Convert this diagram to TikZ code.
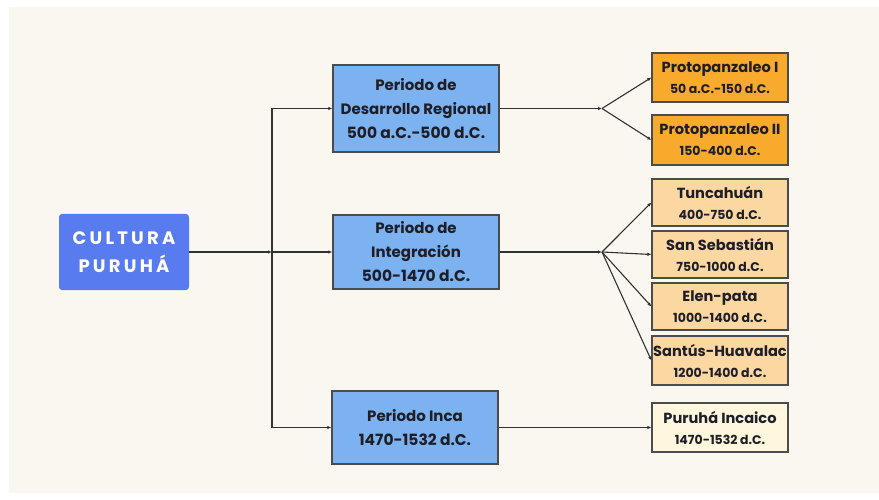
\documentclass[tikz,border=0pt]{standalone}
\usepackage{fontspec}
\setmainfont{Poppins}
\usetikzlibrary{arrows.meta}
\definecolor{bgcream}{RGB}{250,247,241}
\definecolor{mainblue}{RGB}{88,124,240}
\definecolor{periodblue}{RGB}{125,178,240}
\definecolor{orangebox}{RGB}{248,170,45}
\definecolor{lightorange}{RGB}{251,215,162}
\definecolor{creambox}{RGB}{255,246,222}
\definecolor{boxborder}{RGB}{75,75,75}
\definecolor{linegrey}{RGB}{50,50,50}
\definecolor{textdark}{RGB}{30,30,40}
\tikzset{
  period/.style={draw=boxborder, line width=1.4pt, fill=periodblue, minimum width=166pt,
    align=center, inner sep=0pt, text=textdark,
    font=\fontsize{15}{24}\selectfont\bfseries},
  subbox/.style={draw=boxborder, line width=1.2pt, minimum width=136pt, minimum height=48pt,
    align=center, inner sep=0pt, text=textdark,
    font=\fontsize{14.6}{21}\selectfont\bfseries},
  conn/.style={draw=linegrey, line width=1.1pt, -{Latex[length=4pt,width=3.5pt]}},
  plain/.style={draw=linegrey, line width=1.1pt}
}
\newcommand{\sml}{\fontsize{12.5}{21}\selectfont}
\newcommand{\dte}{\fontsize{15.5}{24}\selectfont}
\begin{document}
\begin{tikzpicture}[x=1pt,y=-1pt]
\useasboundingbox (0,0) rectangle (879,500);
\fill[white] (0,0) rectangle (879,500);
\fill[bgcream] (9,7) rectangle (879,493);

\node[fill=mainblue, rounded corners=3pt, minimum width=130pt, minimum height=76pt,
  align=center, inner sep=0pt, text=white,
  font=\fontsize{18}{28}\selectfont\bfseries\addfontfeatures{LetterSpace=18}]
  (cult) at (124,252) {CULTURA\\PURUHÁ};

\node[period, minimum height=87pt] (p1) at (416,108.5) {Periodo de\\Desarrollo Regional\\\dte 500 a.C.-500 d.C.};
\node[period, minimum height=74pt] (p2) at (416,252) {Periodo de\\Integración\\\dte 500-1470 d.C.};
\node[period, minimum height=73pt] (p3) at (415,427.5) {Periodo Inca\\\dte 1470-1532 d.C.};

\node[subbox, fill=orangebox, minimum height=49pt] (o1) at (720,77.5) {Protopanzaleo I\\\sml 50 a.C.-150 d.C.};
\node[subbox, fill=orangebox, minimum height=50pt] (o2) at (720,140) {Protopanzaleo II\\\sml 150-400 d.C.};
\node[subbox, fill=lightorange, minimum height=47pt] (t1) at (720,202.5) {Tuncahuán\\\sml 400-750 d.C.};
\node[subbox, fill=lightorange, minimum height=47pt] (t2) at (720,254.5) {San Sebastián\\\sml 750-1000 d.C.};
\node[subbox, fill=lightorange, minimum height=47pt] (t3) at (720,306.5) {Elen-pata\\\sml 1000-1400 d.C.};
\node[subbox, fill=lightorange, minimum height=49pt] (t4) at (720,360.5) {Santús-Huavalac\\\sml 1200-1400 d.C.};
\node[subbox, fill=creambox, minimum height=49pt] (t5) at (720,427.5) {Puruhá Incaico\\\sml 1470-1532 d.C.};

% left tree
\coordinate (j) at (272,252);
\coordinate (jt) at (272,108.5);
\coordinate (jb) at (272,427.5);
\draw[conn] (cult.east) -- (j);
\draw[plain] (jt) -- (jb);
\draw[conn] (jt) -- (p1.west);
\draw[conn] (j) -- (p2.west);
\draw[conn] (jb) -- (p3.west);

% right tree
\coordinate (k1) at (602,108.5);
\coordinate (k2) at (602,252);
\draw[conn] (p1.east) -- (k1);
\draw[conn] (k1) -- (o1.west);
\draw[conn] (k1) -- (o2.west);
\draw[conn] (p2.east) -- (k2);
\draw[conn] (k2) -- (t1.west);
\draw[conn] (k2) -- (t2.west);
\draw[conn] (k2) -- (t3.west);
\draw[conn] (k2) -- (t4.west);
\draw[conn] (p3.east) -- (t5.west);
\end{tikzpicture}
\end{document}
